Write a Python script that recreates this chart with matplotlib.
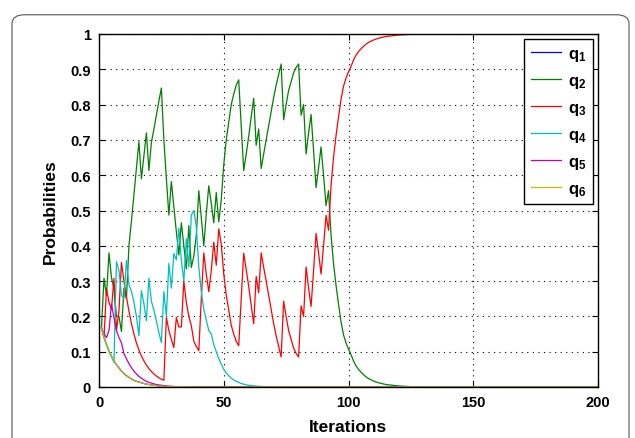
import matplotlib
matplotlib.use("Agg")
import matplotlib.pyplot as plt
from matplotlib.patches import FancyBboxPatch

plt.rcParams['font.family'] = ['Liberation Sans', 'DejaVu Sans']
plt.rcParams['mathtext.fontset'] = 'custom'
plt.rcParams['mathtext.rm'] = 'Liberation Sans'
plt.rcParams['mathtext.bf'] = 'Liberation Sans:bold'

# iterations 1..108 for q2 / q3, then a flat tail
it_main = list(range(1, 109))
it_tail = [110, 112, 115, 120, 125, 130, 200]

q2 = [0.167, 0.308, 0.26, 0.38, 0.31, 0.278, 0.20, 0.20, 0.157, 0.28,
      0.25, 0.40, 0.47, 0.545, 0.62, 0.695, 0.59, 0.655, 0.72, 0.613,
      0.693, 0.73, 0.77, 0.81, 0.847, 0.70, 0.59, 0.487, 0.582, 0.51,
      0.44, 0.374, 0.465, 0.40, 0.335, 0.457, 0.339, 0.37, 0.43, 0.556,
      0.48, 0.40, 0.49, 0.57, 0.52, 0.465, 0.551, 0.468, 0.53, 0.63,
      0.70, 0.75, 0.80, 0.83, 0.855, 0.87, 0.74, 0.613, 0.66, 0.71,
      0.765, 0.818, 0.685, 0.731, 0.619, 0.66, 0.70, 0.74, 0.78, 0.82,
      0.855, 0.885, 0.915, 0.757, 0.80, 0.84, 0.865, 0.89, 0.905, 0.915,
      0.77, 0.80, 0.66, 0.72, 0.772, 0.67, 0.565, 0.62, 0.68, 0.60,
      0.514, 0.556, 0.43, 0.35, 0.288, 0.235, 0.185, 0.148, 0.125, 0.107,
      0.092, 0.074, 0.06, 0.05, 0.042, 0.035, 0.029, 0.024]
q2_tail = [0.017, 0.012, 0.007, 0.003, 0.001, 0.0, 0.0]

q3 = [0.167, 0.14, 0.278, 0.24, 0.22, 0.308, 0.16, 0.216, 0.353, 0.30,
      0.255, 0.215, 0.18, 0.15, 0.125, 0.105, 0.088, 0.074, 0.062, 0.052,
      0.044, 0.037, 0.031, 0.026, 0.022, 0.019, 0.197, 0.16, 0.135, 0.112,
      0.197, 0.17, 0.17, 0.30, 0.24, 0.20, 0.174, 0.13, 0.115, 0.103,
      0.25, 0.38, 0.32, 0.27, 0.33, 0.41, 0.345, 0.448, 0.405, 0.32,
      0.26, 0.218, 0.175, 0.15, 0.129, 0.117, 0.25, 0.379, 0.333, 0.285,
      0.232, 0.179, 0.313, 0.267, 0.38, 0.339, 0.30, 0.26, 0.22, 0.18,
      0.145, 0.115, 0.085, 0.243, 0.20, 0.16, 0.135, 0.11, 0.095, 0.085,
      0.23, 0.20, 0.34, 0.28, 0.228, 0.33, 0.435, 0.38, 0.32, 0.40,
      0.486, 0.444, 0.57, 0.65, 0.712, 0.765, 0.815, 0.852, 0.875, 0.893,
      0.908, 0.926, 0.94, 0.95, 0.958, 0.965, 0.971, 0.976]
q3_tail = [0.983, 0.988, 0.993, 0.997, 0.999, 1.0, 1.0]

# q4: iterations 1..60, then tail
it_q4 = list(range(1, 61)) + [62, 65, 70, 75, 200]
q4 = [0.167, 0.14, 0.12, 0.10, 0.085, 0.07, 0.355, 0.33, 0.26, 0.25,
      0.358, 0.29, 0.27, 0.24, 0.20, 0.145, 0.273, 0.236, 0.188, 0.308,
      0.243, 0.218, 0.187, 0.154, 0.126, 0.27, 0.20, 0.35, 0.28, 0.378,
      0.36, 0.45, 0.36, 0.30, 0.42, 0.34, 0.487, 0.50, 0.455, 0.34,
      0.27, 0.22, 0.19, 0.16, 0.15, 0.12, 0.10, 0.08, 0.065, 0.05,
      0.04, 0.032, 0.025, 0.02, 0.016, 0.013, 0.01, 0.008, 0.006, 0.005,
      0.003, 0.0015, 0.0005, 0.0, 0.0]

# q5: iterations 1..30, then tail
it_q5 = list(range(1, 31)) + [35, 40, 200]
q5 = [0.167, 0.15, 0.14, 0.16, 0.235, 0.196, 0.16, 0.14, 0.125, 0.095,
      0.08, 0.066, 0.055, 0.045, 0.037, 0.03, 0.025, 0.02, 0.016, 0.013,
      0.011, 0.009, 0.007, 0.006, 0.005, 0.004, 0.003, 0.0025, 0.002, 0.0015,
      0.0005, 0.0, 0.0]

# q1 and q6 decay together (q6 drawn on top)
it_q16 = list(range(1, 31)) + [35, 40, 200]
q1 = [0.167, 0.142, 0.12, 0.102, 0.087, 0.074, 0.063, 0.054, 0.045, 0.038,
      0.032, 0.027, 0.023, 0.019, 0.016, 0.014, 0.012, 0.01, 0.008, 0.007,
      0.006, 0.005, 0.004, 0.003, 0.003, 0.002, 0.002, 0.001, 0.001, 0.001,
      0.0005, 0.0, 0.0]
q6 = [0.167, 0.142, 0.12, 0.102, 0.087, 0.074, 0.063, 0.054, 0.045, 0.038,
      0.032, 0.027, 0.023, 0.019, 0.016, 0.014, 0.012, 0.01, 0.008, 0.007,
      0.006, 0.005, 0.004, 0.003, 0.003, 0.002, 0.002, 0.001, 0.001, 0.001,
      0.0005, 0.0, 0.0]

xticks = [0, 50, 100, 150, 200]
yticks = [0, 0.1, 0.2, 0.3, 0.4, 0.5, 0.6, 0.7, 0.8, 0.9, 1]
ytick_labels = ['0', '0.1', '0.2', '0.3', '0.4', '0.5', '0.6', '0.7', '0.8', '0.9', '1']

fig = plt.figure(figsize=(6.35, 4.39), dpi=100)

# rounded frame around the figure
frame = FancyBboxPatch((12 / 635, -0.05), 617 / 635, 1.03 - 7 / 439,
                       boxstyle="round,pad=0,rounding_size=0.02",
                       transform=fig.transFigure, fill=False,
                       edgecolor='#555555', linewidth=0.8)
fig.patches.append(frame)

ax = fig.add_axes([99 / 635, 1 - 388 / 439, 499 / 635, 353 / 439])

lw = 0.9
ax.plot(it_q16, q1, color=(0, 0, 1), lw=lw, label=r'$\mathbf{q_1}$')
ax.plot(it_main + it_tail, q2 + q2_tail, color=(0, 0.5, 0), lw=lw, label=r'$\mathbf{q_2}$')
ax.plot(it_main + it_tail, q3 + q3_tail, color=(1, 0, 0), lw=lw, label=r'$\mathbf{q_3}$')
ax.plot(it_q4, q4, color=(0, 0.75, 0.75), lw=lw, label=r'$\mathbf{q_4}$')
ax.plot(it_q5, q5, color=(0.75, 0, 0.75), lw=lw, label=r'$\mathbf{q_5}$')
ax.plot(it_q16, q6, color=(0.75, 0.75, 0), lw=lw, label=r'$\mathbf{q_6}$')

ax.set_xlim(0, 200)
ax.set_ylim(0, 1)
ax.set_xticks(xticks)
ax.set_yticks(yticks)
ax.set_yticklabels(ytick_labels)
ax.grid(True, color='black', linestyle=(0, (1, 4)), linewidth=0.8)
ax.tick_params(direction='in', top=True, right=True, length=4, width=0.8,
               labelsize=10.5, pad=6)
for lab in ax.get_xticklabels() + ax.get_yticklabels():
    lab.set_fontweight('bold')
for s in ax.spines.values():
    s.set_linewidth(1.0)

ax.set_xlabel('Iterations', fontsize=12.5, fontweight='bold', labelpad=7)
ax.set_ylabel('Probabilities', fontsize=12.5, fontweight='bold', labelpad=9)

leg = ax.legend(loc='upper right', fontsize=12, frameon=True, fancybox=False,
                edgecolor='black', framealpha=1, borderaxespad=0.3,
                handlelength=1.8, labelspacing=0.6, handletextpad=0.4,
                borderpad=0.4)
leg.get_frame().set_linewidth(1.0)

fig.savefig('out.png', dpi=100)
